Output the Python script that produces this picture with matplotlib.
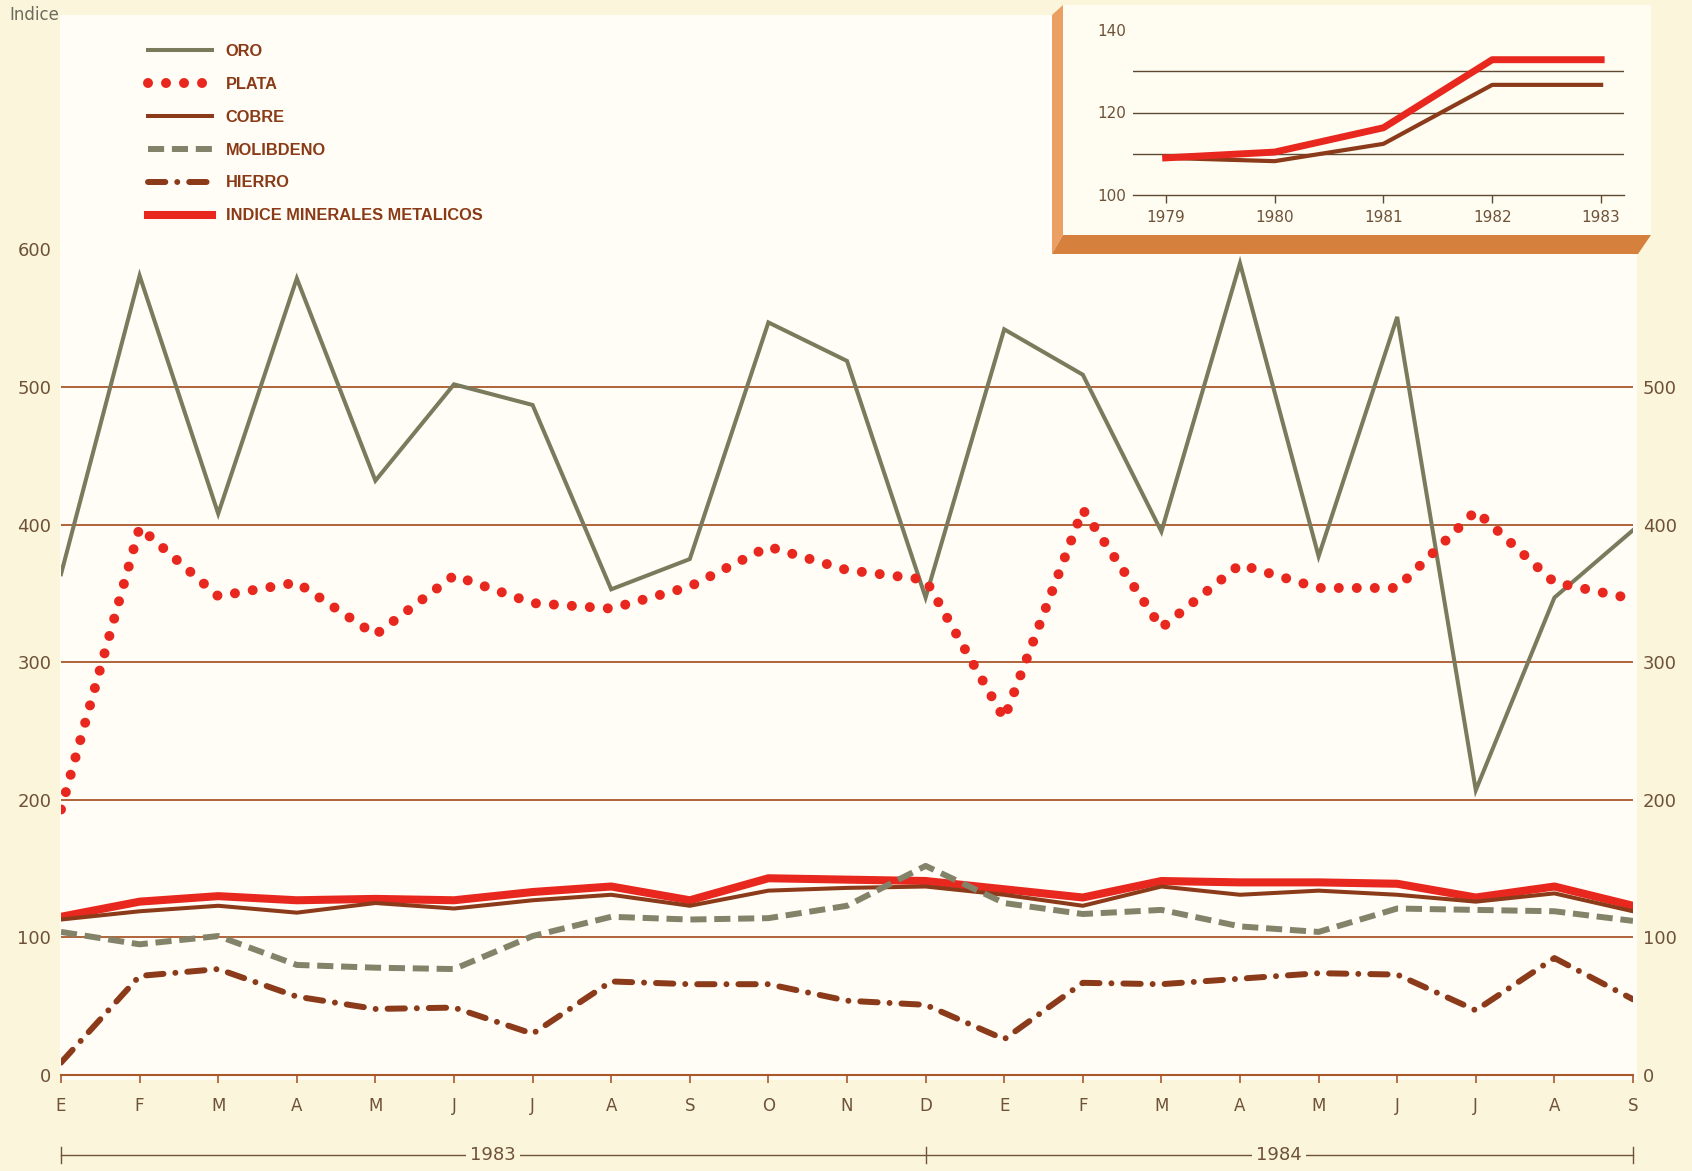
import matplotlib
matplotlib.use('Agg')
import matplotlib.pyplot as plt
import matplotlib.transforms as mtransforms
from matplotlib.patches import Polygon, Rectangle

# ---------------- data ----------------
months = ['E', 'F', 'M', 'A', 'M', 'J', 'J', 'A', 'S', 'O', 'N', 'D',
          'E', 'F', 'M', 'A', 'M', 'J', 'J', 'A', 'S']
oro = [364, 581, 408, 579, 432, 502, 487, 353, 375, 547, 519, 347,
       542, 509, 395, 590, 377, 551, 207, 347, 396]
plata = [193, 398, 348, 358, 320, 363, 343, 339, 355, 384, 367, 360,
         259, 411, 325, 371, 354, 354, 410, 358, 346]
cobre = [113, 119, 123, 118, 125, 121, 127, 131, 123, 134, 136, 137,
         131, 123, 137, 131, 134, 131, 126, 132, 119]
molibdeno = [104, 95, 101, 80, 78, 77, 101, 115, 113, 114, 123, 152,
             125, 117, 120, 108, 104, 121, 120, 119, 112]
hierro = [9, 72, 77, 57, 48, 49, 30, 68, 66, 66, 54, 51,
          26, 67, 66, 70, 74, 73, 47, 85, 55]
indice = [115, 126, 130, 127, 128, 127, 133, 137, 127, 143, 142, 141,
          135, 129, 141, 140, 140, 139, 129, 137, 123]
series_labels = ['ORO', 'PLATA', 'COBRE', 'MOLIBDENO', 'HIERRO',
                 'INDICE MINERALES METALICOS']
year_labels = ['1983', '1984']

inset_years = [1979, 1980, 1981, 1982, 1983]
inset_indice = [109, 110.4, 116.3, 132.8, 132.8]
inset_cobre = [109, 108.2, 112.4, 126.7, 126.7]

# ---------------- style ----------------
W, H = 1692, 1171
BG = '#fbf5dc'
WHITE = '#fffdf6'
GRID = '#a9582c'
TXT = '#6e5238'
OLIVE = '#7a7a5c'
RED = '#e8281e'
BROWN = '#8b3a1a'
GREY = '#83836a'
LEGFONT = 'Liberation Sans'
NUMFONT = 'DejaVu Sans'

plt.rcParams['font.family'] = [NUMFONT]


def fx(px):
    return px / W


def fy(py):
    return 1 - py / H


fig = plt.figure(figsize=(W / 100, H / 100), dpi=100, facecolor=BG)

# white paper area
fig.add_artist(Rectangle((fx(60), fy(1080)), fx(1637) - fx(60), fy(15) - fy(1080),
                         transform=fig.transFigure, facecolor=WHITE,
                         edgecolor='none', zorder=-10))

# ---------------- main axes ----------------
ax = fig.add_axes([fx(61), fy(1075), fx(1633) - fx(61), fy(249.5) - fy(1075)])
ax.set_facecolor('none')
ax.set_zorder(1)
x = list(range(len(months)))
ax.set_xlim(0, len(months) - 1)
ax.set_ylim(0, 600)

for v in [100, 200, 300, 400, 500, 600]:
    ax.axhline(v, color=GRID, lw=1.3, zorder=1)

l_oro, = ax.plot(x, oro, color=OLIVE, lw=2.9, solid_joinstyle='miter', zorder=3)
l_plata, = ax.plot(x, plata, color=RED, lw=7.2, linestyle=(0, (0.001, 1.8)),
                   dash_capstyle='round', zorder=3)
l_indice, = ax.plot(x, indice, color=RED, lw=5.8, zorder=3)
l_cobre, = ax.plot(x, cobre, color=BROWN, lw=2.9, zorder=4)
l_mol, = ax.plot(x, molibdeno, color=GREY, lw=4.3, linestyle=(0, (2.7, 1.3)),
                 dash_capstyle='butt', zorder=5)
l_hie, = ax.plot(x, hierro, color=BROWN, lw=4.3, linestyle=(0, (2.9, 2.0, 0.001, 2.0)),
                 dash_capstyle='round', zorder=5)

for s in ['top', 'left', 'right']:
    ax.spines[s].set_visible(False)
ax.spines['bottom'].set_color(GRID)
ax.spines['bottom'].set_linewidth(1.5)

ax.set_xticks(x)
ax.set_xticklabels(months)
ax.tick_params(axis='x', length=6, width=1.2, color=GRID, pad=10,
               labelsize=12, labelcolor=TXT)
ax.set_yticks([0, 100, 200, 300, 400, 500, 600])
ax.tick_params(axis='y', length=0, pad=7, labelsize=13, labelcolor=TXT)

ax2 = ax.twinx()
ax2.set_ylim(0, 600)
ax2.set_yticks([0, 100, 200, 300, 400, 500])
ax2.tick_params(axis='y', length=0, pad=7, labelsize=13, labelcolor=TXT)
for s in ax2.spines.values():
    s.set_visible(False)

# year bar below the months
trans = mtransforms.blended_transform_factory(ax.transData, fig.transFigure)
yb = fy(1155)
dy = 8 / H
ax.plot([0, len(months) - 1], [yb, yb], transform=trans, clip_on=False,
        color=TXT, lw=1.0)
for xv in [0, 11, len(months) - 1]:
    ax.plot([xv, xv], [yb - dy, yb + dy], transform=trans, clip_on=False,
            color=TXT, lw=1.0)
for xv, lab in zip([5.5, 15.5], year_labels):
    ax.text(xv, yb, lab, transform=trans, ha='center', va='center', fontsize=13,
            color=TXT, bbox=dict(facecolor=BG, edgecolor='none', pad=3))

# legend
handles = [l_oro, l_plata, l_cobre, l_mol, l_hie, l_indice]
leg = ax.legend(handles, series_labels, loc='upper left',
                bbox_to_anchor=(fx(148), fy(44)), bbox_transform=fig.transFigure,
                frameon=False, handlelength=3.9, labelspacing=1.09,
                handletextpad=0.85, borderpad=0, borderaxespad=0,
                prop=dict(family=LEGFONT, weight='bold', size=11.8))
for t in leg.get_texts():
    t.set_color('#8a3a16')

fig.text(fx(9), fy(15), 'Indice', ha='left', va='center', fontsize=12, color='#6b6b5e')

# ---------------- inset ----------------
fig.add_artist(Rectangle((fx(1063), fy(235)), fx(1651) - fx(1063), fy(5) - fy(235),
                         transform=fig.transFigure, facecolor='#fffdf2',
                         edgecolor='none', zorder=5))
left_bevel = [(1052, 15), (1063, 5), (1063, 235), (1052, 254)]
bottom_bevel = [(1052, 254), (1063, 235), (1651, 235), (1638, 254)]
fig.add_artist(Polygon([(fx(a), fy(b)) for a, b in left_bevel], closed=True,
                       transform=fig.transFigure, facecolor='#e9a062',
                       edgecolor='none', zorder=5))
fig.add_artist(Polygon([(fx(a), fy(b)) for a, b in bottom_bevel], closed=True,
                       transform=fig.transFigure, facecolor='#d6803e',
                       edgecolor='none', zorder=5))

axi = fig.add_axes([fx(1133), fy(195), fx(1624) - fx(1133), fy(30) - fy(195)])
axi.set_zorder(6)
axi.set_facecolor('none')
axi.set_xlim(1978.7, 1983.21)
axi.set_ylim(100, 140)
for v in [110, 120, 130]:
    axi.axhline(v, color='#5e4a32', lw=1.0, zorder=1)
axi.plot(inset_years, inset_cobre, color=BROWN, lw=3.0, zorder=3)
axi.plot(inset_years, inset_indice, color=RED, lw=5.0, zorder=4)
for s in ['top', 'left', 'right']:
    axi.spines[s].set_visible(False)
axi.spines['bottom'].set_color('#5e4a32')
axi.spines['bottom'].set_linewidth(1.0)
axi.set_xticks(inset_years)
axi.set_xticklabels([str(y) for y in inset_years])
axi.tick_params(axis='x', length=6, width=1.0, color='#5e4a32', pad=5,
                labelsize=11, labelcolor=TXT)
axi.set_yticks([100, 120, 140])
axi.tick_params(axis='y', length=0, pad=5, labelsize=11, labelcolor=TXT)

fig.savefig('out.png', dpi=100, facecolor=BG)
